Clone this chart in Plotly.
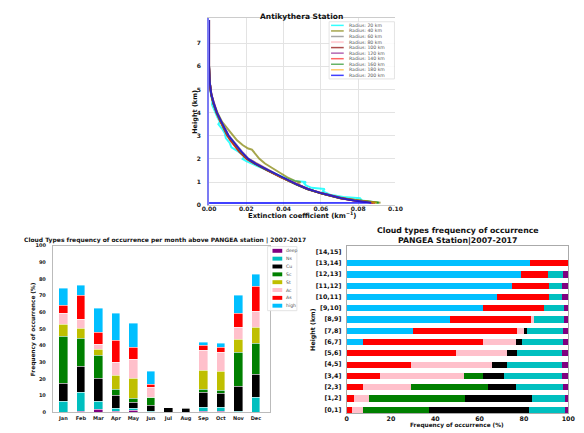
import plotly.graph_objects as go

W, H = 584, 433
FONT = "DejaVu Sans"

# ---------------- Top chart: extinction profiles ----------------
radius_names = ["Radius: 20 km", "Radius: 40 km", "Radius: 60 km", "Radius: 80 km",
                "Radius: 100 km", "Radius: 120 km", "Radius: 140 km", "Radius: 160 km",
                "Radius: 180 km", "Radius: 200 km"]
radius_colors = ["rgba(0,255,255,0.8)", "rgba(128,128,0,0.7)", "rgba(128,128,128,0.7)",
                 "rgba(255,182,193,0.8)", "rgba(139,0,0,0.7)", "rgba(128,0,128,0.6)",
                 "rgba(255,0,0,0.6)", "rgba(0,128,0,0.6)", "rgba(255,165,0,0.6)",
                 "rgba(0,0,255,0.75)"]

h_20 = [0.1, 0.2, 0.3, 0.35, 0.45, 0.6, 0.7, 0.75, 0.85, 0.95, 1.0, 1.05, 1.2, 1.4, 1.6,
        1.8, 1.9, 2.0, 2.1, 2.3, 2.5, 2.7, 2.9, 3.1, 3.3, 3.5, 3.6, 3.8, 4.0, 4.2, 4.35,
        4.5, 4.8, 5.3, 6.0]
ext_20 = [0.091, 0.082, 0.081, 0.072, 0.065, 0.061, 0.062, 0.055, 0.052, 0.051, 0.052,
          0.046, 0.040, 0.034, 0.029, 0.022, 0.020, 0.018, 0.019, 0.016, 0.012, 0.011,
          0.009, 0.0085, 0.007, 0.005, 0.0058, 0.0045, 0.0035, 0.0025, 0.0016, 0.0018,
          0.0010, 0.0003, 0.0]

h_40 = [0.1, 0.2, 0.3, 0.5, 0.7, 0.9, 0.95, 1.0, 1.05, 1.2, 1.4, 1.5, 1.6, 1.8, 2.0, 2.2,
        2.4, 2.45, 2.6, 2.8, 3.0, 3.2, 3.4, 3.6, 4.0, 4.4, 4.8, 5.3, 6.0]
ext_40 = [0.092, 0.080, 0.072, 0.061, 0.053, 0.047, 0.048, 0.049, 0.046, 0.042, 0.038,
          0.036, 0.034, 0.030, 0.027, 0.025, 0.023, 0.021, 0.018, 0.015, 0.013, 0.011,
          0.009, 0.007, 0.0045, 0.0026, 0.0012, 0.0004, 0.0]

h_common = [0.1, 0.2, 0.3, 0.5, 0.7, 0.9, 1.0, 1.2, 1.5, 1.8, 2.0, 2.3, 2.5, 2.8, 3.0,
            3.3, 3.6, 4.0, 4.4, 4.8, 5.3, 6.0, 8.0]
ext_60 = [0.089, 0.078, 0.071, 0.061, 0.053, 0.047, 0.0446, 0.0392, 0.0322, 0.0253, 0.0213,
          0.0178, 0.0158, 0.0127, 0.0106, 0.0086, 0.0066, 0.0043, 0.0025, 0.0012, 0.0004, 0.0, 0.0]
ext_80 = [0.089, 0.078, 0.071, 0.061, 0.053, 0.047, 0.0445, 0.039, 0.032, 0.025, 0.021,
          0.0174, 0.0154, 0.0124, 0.0104, 0.0084, 0.0064, 0.0042, 0.0025, 0.0012, 0.0004, 0.0, 0.0]
ext_100 = [0.088, 0.0775, 0.0705, 0.0605, 0.0527, 0.0467, 0.0442, 0.0386, 0.0313, 0.0244, 0.0203,
           0.0164, 0.0143, 0.0116, 0.0099, 0.008, 0.0062, 0.004, 0.0024, 0.0011, 0.0004, 0.0, 0.0]
ext_120 = [0.089, 0.078, 0.071, 0.061, 0.053, 0.047, 0.0444, 0.0388, 0.0318, 0.0249, 0.0209,
           0.0172, 0.0152, 0.0123, 0.0104, 0.0084, 0.0064, 0.0042, 0.0025, 0.0012, 0.0004, 0.0, 0.0]
ext_140 = [0.089, 0.078, 0.0705, 0.0605, 0.0528, 0.0468, 0.0442, 0.0386, 0.0312, 0.0243, 0.0202,
           0.0163, 0.0142, 0.0115, 0.0098, 0.0079, 0.0061, 0.004, 0.0023, 0.0011, 0.0004, 0.0, 0.0]
ext_160 = [0.091, 0.079, 0.0705, 0.0605, 0.0525, 0.0465, 0.044, 0.0385, 0.0315, 0.0247, 0.0207,
           0.017, 0.015, 0.012, 0.0102, 0.0082, 0.0063, 0.0041, 0.0024, 0.0011, 0.0004, 0.0, 0.0]
ext_180 = [0.090, 0.079, 0.071, 0.061, 0.053, 0.047, 0.0443, 0.0388, 0.0318, 0.0248, 0.0208,
           0.0172, 0.0152, 0.0122, 0.0103, 0.0083, 0.0064, 0.0041, 0.0024, 0.0012, 0.0004, 0.0, 0.0]
# 200 km profile: surface point returns to zero just below the lowest level
h_200 = [0.09] + h_common
ext_200 = [0.0, 0.087, 0.078, 0.071, 0.061, 0.053, 0.047, 0.0445, 0.039, 0.032, 0.025, 0.021,
           0.0175, 0.0155, 0.0125, 0.0105, 0.0085, 0.0065, 0.0042, 0.0025, 0.0012, 0.0004, 0.0, 0.0]

profiles = [(h_20, ext_20), (h_40, ext_40), (h_common, ext_60), (h_common, ext_80),
            (h_common, ext_100), (h_common, ext_120), (h_common, ext_140),
            (h_common, ext_160), (h_common, ext_180), (h_200, ext_200)]

# ---------------- Bottom-left: monthly stacked bars ----------------
months = ["Jan", "Feb", "Mar", "Apr", "May", "Jun", "Jul", "Aug", "Sep", "Oct", "Nov", "Dec"]
cloud_types = ["deep", "Ns", "Cu", "Sc", "St", "Ac", "As", "high"]
cloud_colors = ["#800080", "#00bfbf", "#000000", "#008000", "#bfbf00", "#ffc0cb", "#ff0000", "#00bfff"]
m_deep = [0.0, 0.2, 1.4, 0.2, 1.2, 0.0, 0.0, 0.0, 0.4, 0.4, 0.0, 0.0]
m_Ns = [6.5, 11.6, 4.9, 1.8, 0.8, 0.1, 0.0, 0.0, 2.2, 2.2, 0.4, 8.7]
m_Cu = [10.6, 15.4, 14.0, 7.8, 3.9, 4.0, 2.9, 2.0, 9.0, 8.4, 15.0, 13.7]
m_Sc = [28.2, 17.1, 13.8, 4.0, 2.4, 4.6, 0.1, 0.7, 2.2, 2.2, 20.2, 18.5]
m_St = [7.1, 5.9, 3.3, 8.1, 11.8, 0.2, 0.0, 0.0, 11.2, 11.2, 7.9, 10.1]
m_Ac = [7.0, 5.7, 3.2, 7.8, 11.4, 6.1, 0.0, 0.0, 11.8, 11.2, 7.5, 9.6]
m_As = [4.4, 14.2, 7.0, 13.2, 7.5, 1.5, 0.0, 0.0, 3.0, 3.0, 8.1, 14.8]
m_high = [10.6, 5.9, 14.8, 16.5, 14.5, 7.7, 0.0, 0.0, 1.9, 2.3, 10.8, 7.1]
monthly = [m_deep, m_Ns, m_Cu, m_Sc, m_St, m_Ac, m_As, m_high]

# ---------------- Right: height-layer stacked bars ----------------
layers = ["[0,1]", "[1,2]", "[2,3]", "[3,4]", "[4,5]", "[5,6]", "[6,7]", "[7,8]",
          "[8,9]", "[9,10]", "[10,11]", "[11,12]", "[12,13]", "[13,14]", "[14,15]"]
l_high = [0, 0, 0, 0, 0, 0, 7.1, 29.6, 46.5, 61.3, 67.9, 74.3, 78.7, 82.8, 0]
l_As = [2.2, 3.2, 7.1, 15.1, 29.0, 49.0, 54.4, 47.3, 36.6, 27.4, 23.3, 16.9, 12.0, 17.2, 0]
l_Ac = [4.9, 6.8, 21.6, 37.5, 36.4, 23.1, 14.7, 3.2, 1.2, 0, 0, 0, 0, 0, 0]
l_Sc = [30.1, 43.2, 34.8, 8.7, 0, 0, 0, 0, 0, 0, 0, 0, 0, 0, 0]
l_Cu = [44.9, 30.3, 13.0, 9.6, 6.7, 4.7, 2.9, 1.1, 0, 0, 0, 0, 0, 0, 0]
l_Ns = [16.1, 14.7, 21.0, 26.2, 25.0, 20.3, 18.4, 16.3, 13.5, 9.1, 6.0, 5.9, 6.8, 0, 0]
l_deep = [1.8, 1.8, 2.5, 2.9, 2.9, 2.9, 2.5, 2.5, 2.2, 2.2, 2.8, 2.8, 2.5, 0, 0]
layer_series = [("high", l_high, "#00bfff"), ("As", l_As, "#ff0000"), ("Ac", l_Ac, "#ffc0cb"),
                ("Sc", l_Sc, "#008000"), ("Cu", l_Cu, "#000000"), ("Ns", l_Ns, "#00bfbf"),
                ("deep", l_deep, "#800080")]


def fx(px):
    return px / W


def fy(py):
    return 1 - py / H


fig = go.Figure()

for (hh, vv), col in zip(profiles, radius_colors):
    fig.add_trace(go.Scatter(x=vv, y=hh, mode="lines", line=dict(color=col, width=2),
                             xaxis="x", yaxis="y", showlegend=False, hoverinfo="skip"))

for name, vals, col in zip(cloud_types, monthly, cloud_colors):
    fig.add_trace(go.Bar(x=list(range(len(months))), y=vals, width=0.5, name=name,
                         marker=dict(color=col, line=dict(color="rgba(255,255,255,0.8)", width=0.5)),
                         xaxis="x2", yaxis="y2", showlegend=False))

for name, vals, col in layer_series:
    fig.add_trace(go.Bar(y=list(range(len(layers))), x=vals, orientation="h", width=0.55,
                         name=name, marker=dict(color=col, line=dict(width=0)),
                         xaxis="x3", yaxis="y3", showlegend=False))

bold_tick = dict(family=FONT, size=6, color="#222", weight="bold")

fig.update_layout(
    width=W, height=H, margin=dict(l=0, r=0, t=0, b=0),
    paper_bgcolor="white", plot_bgcolor="white", barmode="stack", bargap=0,
    font=dict(family=FONT),
    xaxis=dict(domain=[fx(207), fx(398)], range=[0, 0.1],
               tickvals=[0, 0.02, 0.04, 0.06, 0.08, 0.10], tickformat=".2f",
               showgrid=True, gridcolor="#e3e3e3", gridwidth=1, zeroline=False,
               showline=True, linecolor="#cccccc", mirror=True, ticks="",
               tickfont=bold_tick, anchor="y", ticklabelstandoff=-2),
    yaxis=dict(domain=[fy(205), fy(15)], range=[0, 8.1], tickvals=list(range(8)),
               showgrid=True, gridcolor="#e3e3e3", zeroline=False,
               showline=True, linecolor="rgba(90,90,240,0.8)", linewidth=2, ticks="",
               tickfont=bold_tick, anchor="x", ticklabelstandoff=5),
    xaxis2=dict(domain=[fx(47), fx(269)], range=[-0.6, 11.78],
                tickvals=list(range(len(months))), ticktext=months, showgrid=False,
                zeroline=False, showline=True, linecolor="#bbbbbb", mirror=True, ticks="",
                tickfont=dict(family=FONT, size=5, color="#222", weight="bold"),
                anchor="y2", ticklabelstandoff=1),
    yaxis2=dict(domain=[fy(415), fy(246)], range=[0, 100], tickvals=list(range(0, 101, 10)),
                showgrid=False, zeroline=False, showline=True, linecolor="#bbbbbb",
                mirror=True, ticks="",
                tickfont=dict(family=FONT, size=5, color="#222", weight="bold"),
                anchor="x2", ticklabelstandoff=5),
    xaxis3=dict(domain=[fx(348), fx(575)], range=[0, 100], tickvals=list(range(0, 101, 20)),
                showgrid=False, zeroline=False, showline=True, linecolor="#aaaaaa",
                mirror=True, ticks="",
                tickfont=dict(family=FONT, size=6.3, color="#111", weight="bold"),
                anchor="y3", ticklabelstandoff=-1),
    yaxis3=dict(domain=[fy(416), fy(246)], range=[-0.35, 14.53],
                tickvals=list(range(len(layers))), ticktext=layers, showgrid=False,
                zeroline=False, showline=True, linecolor="#aaaaaa", mirror=True, ticks="",
                tickfont=dict(family=FONT, size=6.3, color="#111", weight="bold"),
                anchor="x3", ticklabelstandoff=3),
)

ann = []
shapes = []


def text(px, py, s, size, xanchor="center", angle=0, bold=True, color="#111"):
    ann.append(dict(x=fx(px), y=fy(py), xref="paper", yref="paper", text=s, showarrow=False,
                    xanchor=xanchor, yanchor="middle", textangle=angle,
                    font=dict(family=FONT, size=size, color=color,
                              weight="bold" if bold else "normal")))


# Titles & axis titles
text(302, 13.5, "Antikythera Station", 7.5)
text(302, 215, "Extinction coefficient (km<sup>−1</sup>)", 6.8)
text(193, 110, "Height (km)", 6.5, angle=-90)

text(15, 240.5, "Cloud Types frequency of occurrence per month above PANGEA station | 2007-2017",
     6, xanchor="left")
text(28, 330.5, "Frequency of occurrence (%)", 5.8, angle=-90)

text(462, 231, "Cloud types frequency of occurrence", 7.8)
text(462, 240.5, "PANGEA Station|2007-2017", 7.8)
text(461, 428.8, "Frequency of occurrence (%)", 5.8)
text(314, 331, "Height (km)", 6.3, angle=-90)

# Legend (top chart)
shapes.append(dict(type="rect", xref="paper", yref="paper", x0=fx(330), x1=fx(397),
                   y0=fy(77), y1=fy(19), line=dict(color="#dddddd", width=0.8),
                   fillcolor="rgba(255,255,255,0.85)", layer="above"))
for i, (nm, col) in enumerate(zip(radius_names, radius_colors)):
    yy = 22.7 + i * 5.63
    shapes.append(dict(type="line", xref="paper", yref="paper", x0=fx(332), x1=fx(345),
                       y0=fy(yy), y1=fy(yy), line=dict(color=col, width=1.5), layer="above"))
    text(348, yy, nm, 4.6, xanchor="left", bold=False, color="#555")

# Legend (monthly chart)
shapes.append(dict(type="rect", xref="paper", yref="paper", x0=fx(267), x1=fx(297),
                   y0=fy(312), y1=fy(247), line=dict(color="#dddddd", width=0.8),
                   fillcolor="rgba(255,255,255,0.9)", layer="above"))
for i, (nm, col) in enumerate(zip(cloud_types, cloud_colors)):
    yy = 251.3 + i * 7.95
    shapes.append(dict(type="rect", xref="paper", yref="paper", x0=fx(272), x1=fx(282),
                       y0=fy(yy + 2), y1=fy(yy - 2), line=dict(width=0), fillcolor=col,
                       layer="above"))
    text(284, yy, nm, 4.6, xanchor="left", bold=False, color="#555")

fig.update_layout(annotations=ann, shapes=shapes)
fig.write_html("out.html", config={"displayModeBar": False},
               post_script="document.body.style.margin='0';document.body.style.overflow='hidden';")
